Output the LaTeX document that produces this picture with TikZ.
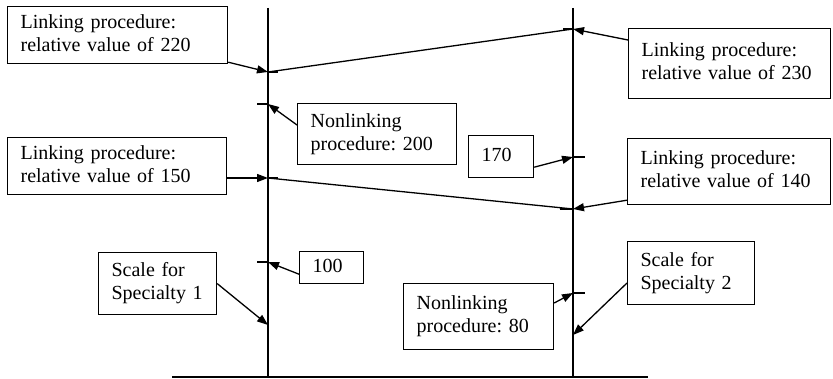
\documentclass[tikz,border=0pt]{standalone}
\usepackage{fontspec}
\setmainfont{Liberation Serif}
\usetikzlibrary{arrows.meta}
\frenchspacing
\tikzset{
  box/.style={draw, line width=1.2pt, anchor=north west, align=left, inner xsep=0pt, inner ysep=0pt,
    font=\fontsize{20}{23}\selectfont},
  conn/.style={line width=1.3pt, -{Triangle[length=11pt,width=8pt]}},
  scaleline/.style={line width=1.5pt},
  tickmark/.style={line width=1.3pt}
}
\newcommand{\bx}[7]{\node[box, text width=#4pt, minimum width=#4pt, minimum height=#5pt] (#1) at (#2,#3) {\hspace*{13pt}\begin{tabular}{@{}l@{}}#6\end{tabular}};}
\begin{document}
\begin{tikzpicture}[x=1pt,y=-1pt]
\useasboundingbox (0,0) rectangle (833,379);
% scale lines
\coordinate (L1top) at (268,8);
\coordinate (L1bot) at (268,377);
\coordinate (R1top) at (573,8);
\coordinate (R1bot) at (573,377);
\coordinate (baseL) at (172,377);
\coordinate (baseR) at (648,377);
\draw[scaleline] (L1top) -- (L1bot);
\draw[scaleline] (R1top) -- (R1bot);
\draw[scaleline] (baseL) -- (baseR);
% target points
\coordinate (t220) at (268,72);
\coordinate (t230) at (573,29);
\coordinate (t200) at (268,104);
\coordinate (t170) at (573,157);
\coordinate (t150) at (268,178);
\coordinate (t140) at (573,209);
\coordinate (t100) at (268,262);
\coordinate (ts1) at (268,325);
\coordinate (t80) at (573,293);
\coordinate (ts2) at (573,335);
% boxes
\bx{b220}{7}{6}{220}{57}{Linking procedure:\\relative value of 220}{}
\bx{b230}{628}{28}{202}{70}{Linking procedure:\\relative value of 230}{}
\bx{b200}{297}{103}{159}{61}{Nonlinking\\procedure: 200}{}
\bx{b170}{468}{135}{65}{42}{170}{}
\bx{b150}{7}{137}{219}{57}{Linking procedure:\\relative value of 150}{}
\bx{b140}{627}{138}{203}{66}{Linking procedure:\\relative value of 140}{}
\bx{b100}{299}{251}{64}{32}{100}{}
\bx{bs1}{98}{252}{118}{62}{Scale for\\Specialty 1}{}
\bx{b80}{403}{283}{150}{66}{Nonlinking\\procedure: 80}{}
\bx{bs2}{627}{241}{127}{63}{Scale for\\Specialty 2}{}
% ticks
\draw[tickmark] (t220) -- ++(10,0);
\draw[tickmark] (t230) -- ++(-10,0);
\draw[tickmark] (t150) -- ++(10,0);
\draw[tickmark] (t140) -- ++(-13,0);
\draw[tickmark] (t200) -- ++(-11,0);
\draw[tickmark] (t100) -- ++(-11,0);
\draw[tickmark] (t170) -- ++(12,0);
\draw[tickmark] (t80) -- ++(12,0);
% linking lines
\draw[tickmark] (t220) -- (t230);
\draw[tickmark] (t150) -- (t140);
% connectors
\draw[conn] ([yshift=2pt]b220.south east) -- (t220);
\draw[conn] ([yshift=-12pt]b230.north west) -- (t230);
\draw[conn] ([yshift=-22pt]b200.north west) -- (t200);
\draw[conn] ([yshift=11pt]b170.south east) -- (t170);
\draw[conn] (b150.east |- t150) -- (t150);
\draw[conn] ([yshift=5pt]b140.south west) -- (t140);
\draw[conn] ([yshift=10pt]b100.south west) -- (t100);
\draw[conn] (bs1.east) -- (ts1);
\draw[conn] ([yshift=-20pt]b80.north east) -- (t80);
\draw[conn] ([yshift=-42pt]bs2.north west) -- (ts2);
\end{tikzpicture}
\end{document}
